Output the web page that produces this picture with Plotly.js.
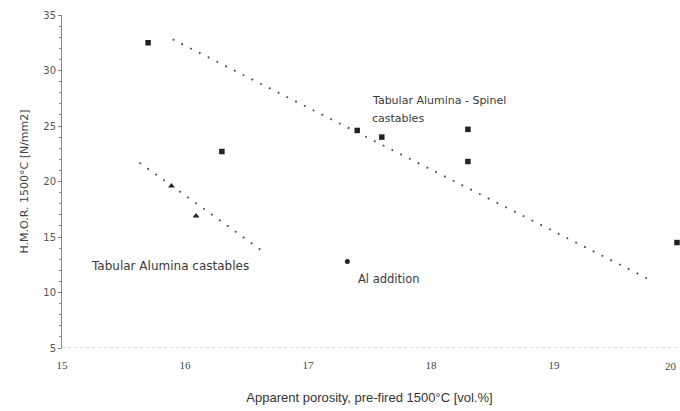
<!DOCTYPE html>
<html>
<head>
<meta charset="utf-8">
<script src="https://cdn.plot.ly/plotly-3.0.1.min.js"></script>
<style>
  html, body { margin: 0; padding: 0; background: #fff; }
  #chart { width: 680px; height: 411px; }
</style>
</head>
<body>
<div id="chart"></div>
<script>
// Hot modulus of rupture at 1500°C versus apparent porosity

// Tabular Alumina - Spinel castables (squares)
const spinelPorosity = [15.7, 16.3, 17.4, 17.6, 18.3, 18.3, 20.0];
const spinelHMOR     = [32.5, 22.7, 24.6, 24.0, 24.7, 21.8, 14.5];

// Tabular Alumina castables (triangles)
const tabularPorosity = [15.89, 16.09];
const tabularHMOR     = [19.6, 16.9];

// Spinel castable with Al addition
const alPorosity = [17.32];
const alHMOR     = [12.8];

// Linear trend lines (end points)
const spinelTrendX  = [15.9, 19.77];
const spinelTrendY  = [32.8, 11.2];
const tabularTrendX = [15.63, 16.66];
const tabularTrendY = [21.7, 13.5];

// Axis tick values; the last x label sits at the right edge and is drawn separately
const xTicks = [15, 16, 17, 18, 19, 20];
const xTickText = ['15', '16', '17', '18', '19', ''];
const xLastLabel = '20';
const yTicks = [5, 10, 15, 20, 25, 30, 35];

const markColor = '#222';
const trendStyle = { color: '#4a4a4a', width: 1.8, dash: '1.8px,8px' };

const traces = [
  { x: spinelTrendX, y: spinelTrendY, mode: 'lines', line: trendStyle, hoverinfo: 'skip' },
  { x: tabularTrendX, y: tabularTrendY, mode: 'lines', line: trendStyle, hoverinfo: 'skip' },
  { x: spinelPorosity, y: spinelHMOR, mode: 'markers',
    marker: { symbol: 'square', size: 5.5, color: markColor }, cliponaxis: false },
  { x: tabularPorosity, y: tabularHMOR, mode: 'markers',
    marker: { symbol: 'triangle-up', size: 6, color: markColor }, cliponaxis: false },
  { x: alPorosity, y: alHMOR, mode: 'markers',
    marker: { symbol: 'circle', size: 5, color: markColor }, cliponaxis: false }
];

const labelFont = { family: 'DejaVu Sans, sans-serif', size: 11, color: '#3a3a3a' };
const xTickFont = { family: 'Liberation Serif, serif', size: 11, color: '#444' };

const layout = {
  width: 680, height: 411,
  margin: { l: 62, r: 3, t: 15, b: 63 },
  paper_bgcolor: '#fff', plot_bgcolor: '#fff',
  showlegend: false,
  xaxis: {
    range: [15, 20], tickvals: xTicks, ticktext: xTickText,
    showgrid: false, zeroline: false, showline: false, ticks: '',
    tickfont: xTickFont,
    ticklabelstandoff: 9,
    title: { text: 'Apparent porosity, pre-fired 1500°C [vol.%]',
      font: { family: 'Liberation Sans, Arial, sans-serif', size: 13, color: '#333' }, standoff: 22 }
  },
  yaxis: {
    range: [5, 35], tickvals: yTicks, ticktext: yTicks.map(String),
    showgrid: false, zeroline: false,
    showline: true, linecolor: '#888', linewidth: 1,
    ticks: 'outside', ticklen: 3, tickcolor: '#777', tickwidth: 1,
    minor: { dtick: 1, ticks: 'outside', ticklen: 2, tickcolor: '#888' },
    tickfont: { family: 'DejaVu Sans, sans-serif', size: 10, color: '#555' },
    title: { text: 'H.M.O.R. 1500°C [N/mm2]',
      font: { family: 'DejaVu Sans, sans-serif', size: 11, color: '#444' }, standoff: 12 }
  },
  shapes: [
    { type: 'line', xref: 'paper', yref: 'y', x0: 0, x1: 1, y0: 5, y1: 5,
      line: { color: '#bbb', width: 1, dash: 'dot' } }
  ],
  annotations: [
    { x: 1, y: 0, xref: 'paper', yref: 'paper', xanchor: 'right', yanchor: 'top',
      yshift: -10, xshift: 2, text: xLastLabel, showarrow: false, font: xTickFont },
    { x: 17.5, y: 27.3, xref: 'x', yref: 'y', xanchor: 'left', yanchor: 'middle',
      text: 'Tabular Alumina - Spinel', showarrow: false, font: labelFont },
    { x: 17.5, y: 25.7, xref: 'x', yref: 'y', xanchor: 'left', yanchor: 'middle',
      text: 'castables', showarrow: false, font: labelFont },
    { x: 15.22, y: 12.4, xref: 'x', yref: 'y', xanchor: 'left', yanchor: 'middle',
      text: 'Tabular Alumina castables', showarrow: false,
      font: { family: 'DejaVu Sans, sans-serif', size: 12, color: '#3a3a3a' } },
    { x: 17.39, y: 11.2, xref: 'x', yref: 'y', xanchor: 'left', yanchor: 'middle',
      text: 'Al addition', showarrow: false,
      font: { family: 'DejaVu Sans, sans-serif', size: 11.5, color: '#3a3a3a' } }
  ]
};

Plotly.newPlot('chart', traces, layout, { staticPlot: true, displayModeBar: false });
</script>
</body>
</html>
